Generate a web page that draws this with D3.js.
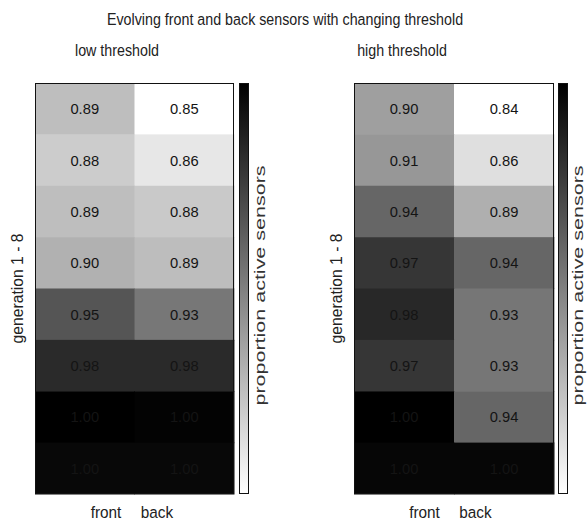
<!DOCTYPE html>
<html>
<head>
<meta charset="utf-8">
<script src="https://cdn.jsdelivr.net/npm/d3@7"></script>
<style>
  body { margin: 0; background: #fff; }
  svg { display: block; font-family: "Liberation Sans", Arial, sans-serif; }
</style>
</head>
<body>
<svg id="chart" width="587" height="521"></svg>
<script>
// ---- data ----
const title = "Evolving front and back sensors with changing threshold";
const generations = [1, 2, 3, 4, 5, 6, 7, 8];
const sensors = ["front", "back"];
const panelTitles = ["low threshold", "high threshold"];
const lowFront  = [0.888, 0.880, 0.888, 0.896, 0.950, 0.9752, 1.000, 0.9955];
const lowBack   = [0.850, 0.864, 0.882, 0.889, 0.930, 0.9752, 0.998, 0.9955];
const highFront = [0.900, 0.905, 0.936, 0.966, 0.9752, 0.966, 1.000, 0.996];
const highBack  = [0.840, 0.860, 0.890, 0.936, 0.926, 0.926, 0.936, 0.996];
const yLabel = "generation 1 - 8";
const cbarLabel = "proportion active sensors";

const svg = d3.select("#chart");
const defs = svg.append("defs");
const grad = defs.append("linearGradient").attr("id", "cbarGrad")
  .attr("x1", 0).attr("y1", 0).attr("x2", 0).attr("y2", 1);
grad.append("stop").attr("offset", "0%").attr("stop-color", "#000");
grad.append("stop").attr("offset", "100%").attr("stop-color", "#fff");

const txtColor = "#222";

svg.append("text").attr("transform", "translate(285,25) scale(0.84,1)")
  .attr("text-anchor", "middle").attr("font-size", 17).attr("fill", txtColor).text(title);

const panels = [
  { front: lowFront, back: lowBack, x0: 35, x1: 234, cb: 239, cbl: 265, yl: 23, tx: 117, lx: 131.5 },
  { front: highFront, back: highBack, x0: 354, x1: 554, cb: 558, cbl: 583, yl: 342, tx: 402, lx: 450 }
];
const plotTop = 83, plotBottom = 494;

panels.forEach((p, pi) => {
  const g = svg.append("g");
  const x = d3.scaleBand().domain(sensors).range([p.x0, p.x1]);
  const y = d3.scaleBand().domain(generations).range([plotTop, plotBottom]);
  const all = p.front.concat(p.back);
  const color = d3.scaleLinear().domain([d3.min(all), d3.max(all)]).range(["#ffffff", "#000000"]);
  const cells = [];
  generations.forEach((gen, i) => {
    cells.push({ s: "front", gen, v: p.front[i] });
    cells.push({ s: "back", gen, v: p.back[i] });
  });
  g.selectAll("rect.cell").data(cells).join("rect").attr("class", "cell")
    .attr("x", d => x(d.s)).attr("y", d => y(d.gen))
    .attr("width", x.bandwidth() + 0.5).attr("height", y.bandwidth() + 0.5)
    .attr("fill", d => color(d.v));
  g.selectAll("text.val").data(cells).join("text").attr("class", "val")
    .attr("transform", d => `translate(${x(d.s) + x.bandwidth() / 2},${y(d.gen) + y.bandwidth() / 2 + 5.5}) scale(0.95,1)`)
    .attr("text-anchor", "middle").attr("font-size", 15.5).attr("fill", "#141414")
    .text(d => d.v.toFixed(2));
  g.append("rect").attr("x", p.x0 + 0.5).attr("y", plotTop + 0.5)
    .attr("width", p.x1 - p.x0 - 1).attr("height", plotBottom - plotTop - 1)
    .attr("fill", "none").attr("stroke", "#111").attr("stroke-width", 1);

  // colorbar
  const cy = d3.scaleLinear().domain(color.domain()).range([plotBottom, plotTop]);
  g.append("rect").attr("x", p.cb + 0.5).attr("y", cy(color.domain()[1]) + 0.5)
    .attr("width", 9).attr("height", cy(color.domain()[0]) - cy(color.domain()[1]) - 1)
    .attr("fill", "url(#cbarGrad)").attr("stroke", "#111").attr("stroke-width", 1);
  g.append("text").attr("transform", `translate(${p.cbl},${(plotTop + plotBottom) / 2 - 3}) rotate(-90) scale(1,0.7)`)
    .attr("text-anchor", "middle").attr("font-size", 21.5).attr("fill", "#333").text(cbarLabel);

  // y label
  g.append("text").attr("transform", `translate(${p.yl},${(plotTop + plotBottom) / 2}) rotate(-90)`)
    .attr("text-anchor", "middle").attr("font-size", 15.7).attr("fill", txtColor).text(yLabel);

  // panel title
  g.append("text").attr("transform", `translate(${p.tx},56) scale(0.84,1)`)
    .attr("text-anchor", "middle").attr("font-size", 17).attr("fill", txtColor).text(panelTitles[pi]);

  // x labels
  const xl = d3.scalePoint().domain(sensors).range([p.lx - 25.5, p.lx + 25.5]);
  g.selectAll("text.xl").data(sensors).join("text").attr("class", "xl")
    .attr("transform", d => `translate(${xl(d)},518) scale(0.93,1)`)
    .attr("text-anchor", "middle")
    .attr("font-size", 16.5).attr("fill", txtColor).text(d => d);
});
</script>
</body>
</html>
